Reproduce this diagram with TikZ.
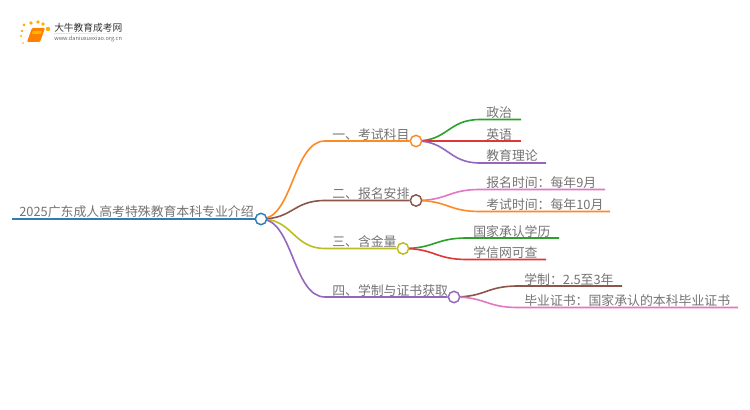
\documentclass[tikz,border=0pt]{standalone}
\usepackage{fontspec}
\setmainfont{Noto Sans CJK SC}
\usetikzlibrary{calc}
\definecolor{cblue}{HTML}{2E7DB8}
\definecolor{corange}{HTML}{FF8A24}
\definecolor{cbrown}{HTML}{8C564B}
\definecolor{colive}{HTML}{BCBD22}
\definecolor{cpurple}{HTML}{9467BD}
\definecolor{cgreen}{HTML}{2CA02C}
\definecolor{cred}{HTML}{E0363A}
\definecolor{cpink}{HTML}{E377C2}
\definecolor{ctext}{HTML}{747474}
\tikzset{
  x=0.75pt,y=-0.75pt,
  hub/.style={circle,draw=#1,fill=white,line width=1pt,minimum size=8.4pt,inner sep=0pt},
  lbl/.style={text=ctext,font=\fontsize{9.65pt}{11pt}\selectfont,anchor=base west,inner sep=0pt},
  wire/.style={draw=#1,line width=1.2pt},
}
\newcommand{\branch}[4]{% colour, start hub, bend end, line end
  \draw[wire=#1] (#2.center) .. controls ($(#2.center)!0.5!(#3 |- #2.center)$) and ($(#2.center |- #3)!0.5!(#3)$) .. (#3) -- (#4);
}
\begin{document}
\begin{tikzpicture}
\useasboundingbox (0,0) rectangle (750,410);
\fill[white] (0,0) rectangle (750,410);
% logo
\foreach \a/\b/\r in {23/43/0.9,21/36/1.1,22/31/1.3,24/25/1.5,31/23/1.8,38/22/1.9,43/24/1.9,48/29/2.2}
  \fill[orange!65!yellow] (\a,\b) circle (\r);
\fill[orange,rounded corners=0.8pt] (32,28) -- (45,28) -- (40,42) -- (27,42) -- cycle;
\fill[orange!55!yellow] (33,31) -- (42,31) -- (41,34) -- (32,34) -- cycle;
\shade[left color=gray!25,right color=white,draw=none] (54,33.2) rectangle (132,33.8);
\node[anchor=base west,inner sep=0pt,text=black!80,font=\fontsize{7.3pt}{8pt}\selectfont] (logot) at (54,31.5) {大牛教育成考网};
\node[anchor=base west,inner sep=0pt,text=black!60,font=\fontsize{4.2pt}{5pt}\selectfont] (logou) at (54,41) {www.daniuxuexiao.org.cn};
% nodes
\coordinate (rs) at (12,219);
\node[hub=cblue] (root) at (261,219) {};
\node[hub=corange] (n1) at (416,141) {};
\node[hub=cbrown] (n2) at (416,200.5) {};
\node[hub=colive] (n3) at (403,248.5) {};
\node[hub=cpurple] (n4) at (454,297) {};
\coordinate (b1) at (325,141); \coordinate (b2) at (325,200.5);
\coordinate (b3) at (325,248.5); \coordinate (b4) at (325,297);
\coordinate (l1) at (480,119.5); \coordinate (e1) at (521,119.5);
\coordinate (l2) at (480,141);   \coordinate (e2) at (521,141);
\coordinate (l3) at (480,163);   \coordinate (e3) at (546,163);
\coordinate (l4) at (480,189.5); \coordinate (e4) at (605,189.5);
\coordinate (l5) at (480,211.5); \coordinate (e5) at (610,211.5);
\coordinate (l6) at (467,238);   \coordinate (e6) at (559,238);
\coordinate (l7) at (467,259.5); \coordinate (e7) at (546,259.5);
\coordinate (l8) at (518,286);   \coordinate (e8) at (622,286);
\coordinate (l9) at (518,307.5); \coordinate (e9) at (738,307.5);
% connectors
\draw[wire=cblue] (rs) -- (root);
\branch{corange}{root}{b1}{n1}
\branch{cbrown}{root}{b2}{n2}
\branch{colive}{root}{b3}{n3}
\branch{cpurple}{root}{b4}{n4}
\branch{cgreen}{n1}{l1}{e1}
\branch{cred}{n1}{l2}{e2}
\branch{cpurple}{n1}{l3}{e3}
\branch{cpink}{n2}{l4}{e4}
\branch{corange}{n2}{l5}{e5}
\branch{cgreen}{n3}{l6}{e6}
\branch{cred}{n3}{l7}{e7}
\branch{cbrown}{n4}{l8}{e8}
\branch{cpink}{n4}{l9}{e9}
% hubs on top of the connectors
\node[hub=cblue] at (root.center) {};
\node[hub=corange] at (n1.center) {};
\node[hub=cbrown] at (n2.center) {};
\node[hub=colive] at (n3.center) {};
\node[hub=cpurple] at (n4.center) {};
% labels
\node[lbl] (t0) at (19,216.5) {2025广东成人高考特殊教育本科专业介绍};
\node[lbl] (t1) at (332,139.5) {一、考试科目};
\node[lbl] (t2) at (332,198.5) {二、报名安排};
\node[lbl] (t3) at (332,246.5) {三、含金量};
\node[lbl] (t4) at (332,295) {四、学制与证书获取};
\node[lbl] (t5) at (486,117.5) {政治};
\node[lbl] (t6) at (486,139.5) {英语};
\node[lbl] (t7) at (486,161) {教育理论};
\node[lbl] (t8) at (486,187.5) {报名时间：每年9月};
\node[lbl] (t9) at (486,209.5) {考试时间：每年10月};
\node[lbl] (t10) at (473,236) {国家承认学历};
\node[lbl] (t11) at (473,257.5) {学信网可查};
\node[lbl] (t12) at (524,284) {学制：2.5至3年};
\node[lbl] (t13) at (524,305.5) {毕业证书：国家承认的本科毕业证书};
\end{tikzpicture}
\end{document}
